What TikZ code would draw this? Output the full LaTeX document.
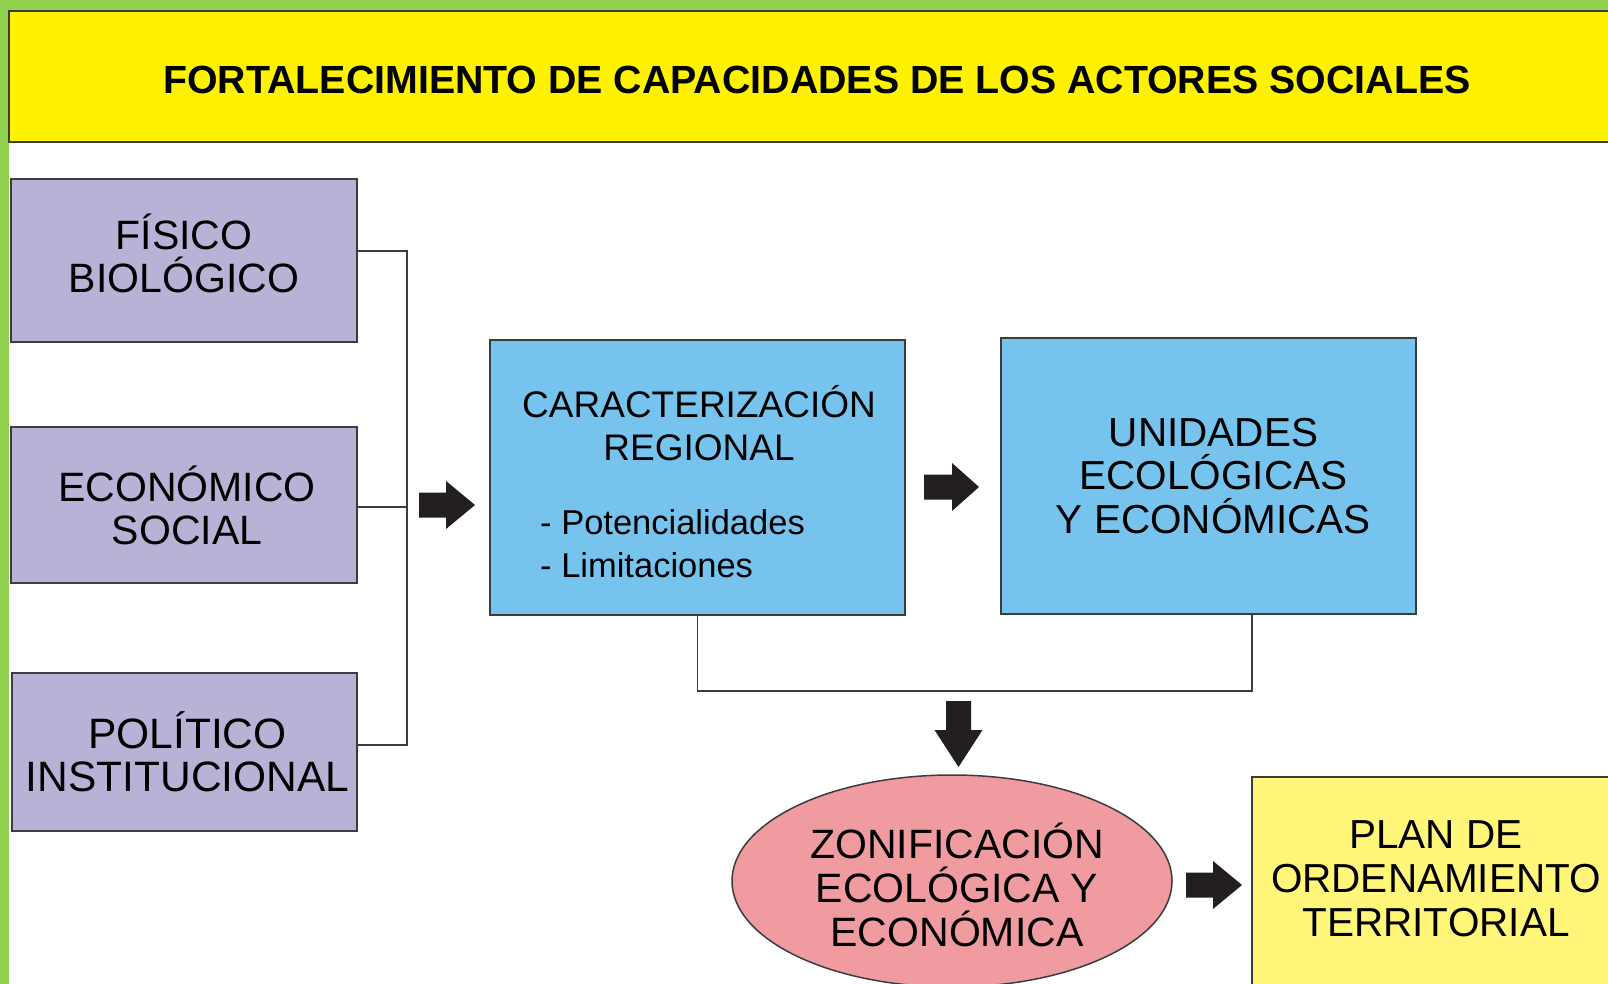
\documentclass[tikz,border=0pt]{standalone}
\usepackage{fontspec}
\setmainfont{Liberation Sans}
\usetikzlibrary{shapes.geometric}
\definecolor{bgreen}{RGB}{146,208,80}
\definecolor{tyellow}{RGB}{255,242,0}
\definecolor{lav}{RGB}{184,178,214}
\definecolor{sky}{RGB}{118,196,238}
\definecolor{pinkz}{RGB}{239,155,160}
\definecolor{pyellow}{RGB}{255,246,122}
\definecolor{edge}{RGB}{60,60,60}
\definecolor{arr}{RGB}{35,31,32}
\newcommand\padlow[1]{\rule[-#1pt]{0pt}{#1pt}}
\newcommand\padhigh[1]{\rule{0pt}{#1pt}}
\newcommand\lsh[1]{\hspace*{#1pt}}
\tikzset{
  pics/barrow/.style 2 args={code={
    \fill[arr] (0,-12.5) -- ({#1-#2},-12.5) -- ({#1-#2},-24) -- (#1,0)
      -- ({#1-#2},24) -- ({#1-#2},12.5) -- (0,12.5) -- cycle;}},
  box/.style={draw=edge, line width=1.5pt, inner sep=0pt, align=center},
  pbox/.style={box, fill=lav, minimum width=346pt, font=\fontsize{41}{43}\selectfont},
  bbox/.style={box, fill=sky, minimum width=415pt},
  conn/.style={draw=edge, line width=1.8pt},
  ctext/.style={inner sep=0pt}
}
\begin{document}
\begin{tikzpicture}[x=1pt,y=-1pt]
\useasboundingbox (0,0) rectangle (1608,984);
\fill[bgreen] (0,0) rectangle (1608,984);
\fill[white] (9,11) rectangle (1608,984);
\begin{scope}
\clip (0,0) rectangle (1608,984);
% title bar
\node[box, fill=tyellow, minimum width=1611pt, minimum height=131pt,
  font=\bfseries\fontsize{39.3}{43}\selectfont] (title) at (814.5,76.5)
  {\padhigh{35}\lsh{5}FORTALECIMIENTO DE CAPACIDADES DE LOS ACTORES SOCIALES};
% left boxes
\node[pbox, minimum height=163pt] (fis) at (184,260.5) {FÍSICO\\BIOLÓGICO\padlow{15}};
\node[pbox, minimum height=156pt] (eco) at (184,505) {\lsh{6}ECONÓMICO\\\lsh{6}SOCIAL};
\node[pbox, minimum height=158pt, minimum width=345pt, font=\fontsize{42.5}{43.5}\selectfont] (pol) at (184.5,752)
  {\lsh{6}POLÍTICO\\\lsh{6}INSTITUCIONAL};
% blue boxes
\node[bbox, minimum height=275pt] (car) at (697.5,477.5) {};
\node[ctext, anchor=base, font=\fontsize{37}{43}\selectfont] (car1) at (699,417) {CARACTERIZACIÓN};
\node[ctext, anchor=base, font=\fontsize{37}{43}\selectfont] (car2) at (699,460) {REGIONAL};
\node[ctext, anchor=base west, font=\fontsize{34.5}{43}\selectfont] (car3) at (540,534) {- Potencialidades};
\node[ctext, anchor=base west, font=\fontsize{34.5}{43}\selectfont] (car4) at (540,577) {- Limitaciones};
\node[bbox, minimum height=276pt, font=\fontsize{40.5}{43.5}\selectfont] (uni) at (1208.5,476)
  {\lsh{10}UNIDADES\\\lsh{10}ECOLÓGICAS\\\lsh{10}Y ECONÓMICAS};
% ellipse
\node[draw=edge, line width=1.5pt, fill=pinkz, ellipse, inner sep=0pt, align=center,
  minimum width=440pt, minimum height=212pt, font=\fontsize{41}{44}\selectfont] (zon) at (952,881)
  {\padhigh{44}\lsh{10}ZONIFICACIÓN\\\lsh{10}ECOLÓGICA Y\\\lsh{10}ECONÓMICA};
% plan box
\node[box, fill=pyellow, minimum width=368pt, minimum height=223pt,
  font=\fontsize{40.5}{44}\selectfont] (plan) at (1436,888.5)
  {PLAN DE\\ORDENAMIENTO\\TERRITORIAL\padlow{20}};
\end{scope}
% connectors
\coordinate (bustop) at (407,251);
\coordinate (busbot) at (407,745);
\draw[conn] ([yshift=9.5pt]fis.east) -- (bustop) -- (busbot) -- ([yshift=7pt]pol.east);
\draw[conn] ([yshift=-2pt]eco.east) -- ([yshift=-2pt]eco.east -| bustop);
\coordinate (mid) at (975,691);
\draw[conn] (car.south) |- (mid) -| ([xshift=43.5pt]uni.south);
% block arrows
\pic at (419,505) {barrow={56}{29}};
\pic at (924,487) {barrow={55}{27}};
\pic[rotate=-90] at (958.5,701) {barrow={66}{37}};
\pic at (1186,885) {barrow={56}{29}};
\end{tikzpicture}
\end{document}
